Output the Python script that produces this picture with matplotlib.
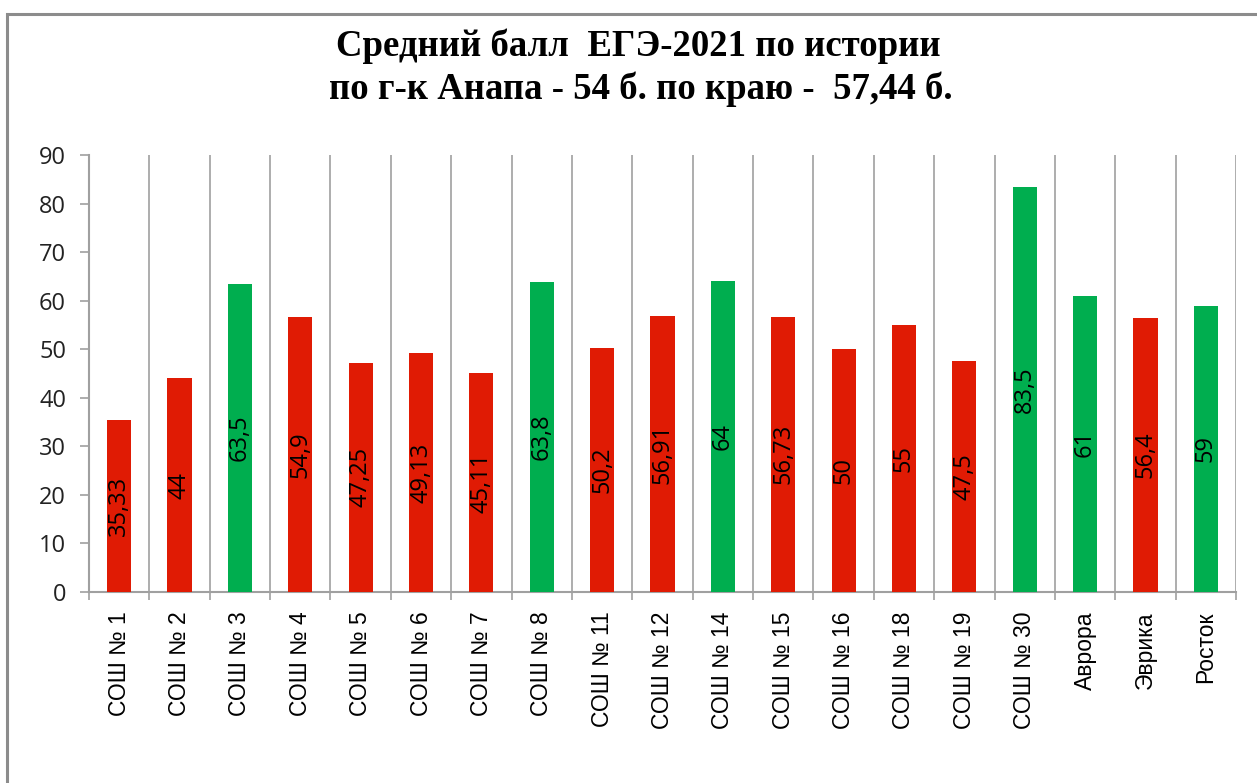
import numpy as np
import matplotlib.pyplot as plt
from matplotlib.patches import Rectangle

# данные
schools = ['СОШ № 1', 'СОШ № 2', 'СОШ № 3', 'СОШ № 4', 'СОШ № 5', 'СОШ № 6',
           'СОШ № 7', 'СОШ № 8', 'СОШ № 11', 'СОШ № 12', 'СОШ № 14', 'СОШ № 15',
           'СОШ № 16', 'СОШ № 18', 'СОШ № 19', 'СОШ № 30', 'Аврора', 'Эврика', 'Росток']
heights = [35.33, 44, 63.5, 56.6, 47.25, 49.13, 45.11, 63.8, 50.2, 56.91, 64,
           56.73, 50, 55, 47.5, 83.5, 61, 56.4, 59]
labels = ['35,33', '44', '63,5', '54,9', '47,25', '49,13', '45,11', '63,8', '50,2',
          '56,91', '64', '56,73', '50', '55', '47,5', '83,5', '61', '56,4', '59']
above = [False, False, True, False, False, False, False, True, False,
         False, True, False, False, False, False, True, True, False, True]

RED = '#E01B04'
GREEN = '#00AE4F'
GRAY = '#A0A0A0'

fig = plt.figure(figsize=(12.57, 7.83), dpi=100)
ax = fig.add_axes([89/1257, 1-592/783, (1236-89)/1257, (592-155)/783])

x = np.arange(len(schools))
colors = [GREEN if a else RED for a in above]
ax.bar(x, heights, width=0.4, color=colors, zorder=3)

for xi, h, lab in zip(x, heights, labels):
    ax.text(xi, h/2, lab, rotation=90, ha='center', va='center',
            fontsize=17, family='Open Sans', color='black', zorder=4)

ax.set_xlim(-0.5, len(schools)-0.5)
ax.set_ylim(0, 90)
ax.set_yticks(np.arange(0, 91, 10))
ax.set_xticks(np.arange(-0.5, len(schools), 1))
ax.set_xticklabels([])
ax.set_xticks(x, minor=True)
ax.set_xticklabels(schools, minor=True, rotation=90, fontsize=16.5,
                   family='Liberation Sans', va='top')
ax.tick_params(axis='x', which='minor', length=0, pad=14)
ax.tick_params(axis='x', which='major', length=6, color=GRAY, width=1.2)
ax.tick_params(axis='y', length=6.5, color=GRAY, width=1.2, pad=10, labelsize=17)
for t in ax.get_yticklabels():
    t.set_family('Open Sans')
    t.set_color('#222222')

ax.grid(axis='x', which='major', color=GRAY, lw=1.2, zorder=0)
for s in ['top', 'right']:
    ax.spines[s].set_visible(False)
for s in ['left', 'bottom']:
    ax.spines[s].set_color(GRAY)
    ax.spines[s].set_linewidth(1.5)

# заголовок
fig.text(638/1257, 1-46/783, 'Средний балл  ЕГЭ-2021 по истории', ha='center',
         va='center', fontsize=26.5, fontweight='bold', family='Liberation Serif')
fig.text(641/1257, 1-89/783, 'по г-к Анапа - 54 б. по краю -  57,44 б.', ha='center',
         va='center', fontsize=26.5, fontweight='bold', family='Liberation Serif')

# рамка
fig.patches.append(Rectangle((7/1257, -0.1), 1.1, 1.1-14/783, transform=fig.transFigure,
                             fill=False, edgecolor='#8C8C8C', lw=2.2))

fig.savefig('out.png', dpi=100)
